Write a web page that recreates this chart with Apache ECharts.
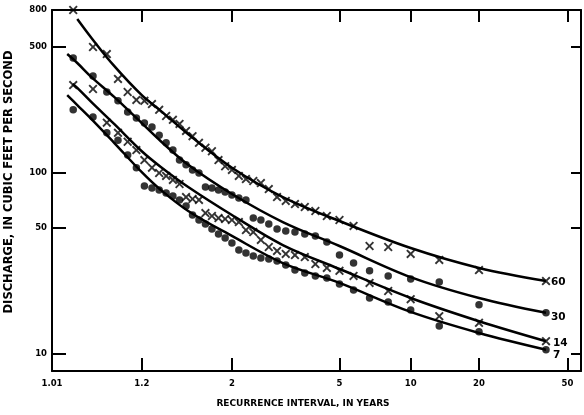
<!DOCTYPE html>
<html>
<head>
<meta charset="utf-8">
<script src="https://cdn.jsdelivr.net/npm/echarts@6/dist/echarts.min.js"></script>
<style>
html,body{margin:0;padding:0;background:#fff;}
#chart{width:584px;height:415px;}
</style>
</head>
<body>
<div id="chart"></div>
<script>
// ---- tick labels ----
const tickIntervals = [1.01, 1.2, 2, 5, 10, 20, 50];
const tickLabels = ['1.01', '1.2', '2', '5', '10', '20', '50'];
const dischargeTicks = [10, 50, 100, 500, 800];

// ---- plotting positions: recurrence intervals (years) ----
const recurrence = [1.0256, 1.0526, 1.0811, 1.1111, 1.1429, 1.1765, 1.2121, 1.25, 1.2903, 1.3333,
  1.3793, 1.4286, 1.4815, 1.5385, 1.6, 1.6667, 1.7391, 1.8182, 1.9048, 2,
  2.1053, 2.2222, 2.3529, 2.5, 2.6667, 2.8571, 3.0769, 3.3333, 3.6364, 4,
  4.4444, 5, 5.7143, 6.6667, 8, 10, 13.333, 20, 40];

// ---- observed discharges (cfs) ----
const q60 = [800, 499, 456, 332, 281, 254, 251, 241, 224, 207, 197, 187, 171, 160, 147, 138, 132, 118, 109, 104,
  96.3, 92.6, 90.3, 88.0, 81.5, 73.6, 70.0, 67.3, 64.8, 61.6, 57.8, 54.9, 50.9, 39.4, 38.9, 35.6, 33.0, 29.0, 25.2];
const q30 = [434, 345, 281, 251, 218, 202, 189, 180, 162, 147, 134, 118, 111, 104, 100, 83.6, 82.6, 80.5, 78.5, 75.5,
  72.7, 70.9, 56.3, 54.9, 52.2, 49.0, 47.7, 47.1, 45.9, 44.8, 41.5, 35.1, 31.7, 28.7, 26.9, 25.9, 24.9, 18.6, 16.8];
const q14 = [307, 292, 190, 167, 149, 134, 118, 107, 100, 96.3, 91.5, 86.9, 73.6, 71.8, 70.9, 60.0, 57.8, 56.3, 55.6, 54.9,
  53.5, 48.3, 47.1, 42.6, 38.9, 37.0, 35.6, 35.1, 34.2, 31.3, 29.8, 28.7, 26.9, 24.6, 22.2, 20.0, 16.1, 14.8, 11.7];
const q7 = [224, 204, 167, 152, 126, 107, 84.7, 82.6, 80.5, 77.5, 74.6, 70.9, 65.7, 58.5, 54.9, 52.2, 49.0, 45.9, 43.7, 41.0,
  37.5, 36.1, 34.7, 33.8, 33.4, 32.5, 30.9, 29.0, 27.9, 26.9, 26.2, 24.3, 22.5, 20.3, 19.3, 17.4, 14.2, 13.2, 10.5];

// ---- fitted frequency curves ----
const curveT60 = [1.03, 1.05, 1.1, 1.2, 1.3, 1.5, 2, 3, 5, 10, 20, 40];
const curveQ60 = [713, 560, 392, 270, 221, 164, 107, 73.6, 54.2, 38.4, 29.8, 25.2];
const curveT30 = [1.02, 1.03, 1.05, 1.1, 1.2, 1.3, 1.5, 2, 3, 5, 10, 20, 40];
const curveQ30 = [456, 407, 340, 264, 189, 150, 111, 76.5, 53.5, 39.4, 26.5, 20.3, 16.8];
const curveT14 = [1.025, 1.03, 1.05, 1.1, 1.2, 1.3, 1.5, 2, 3, 5, 10, 20, 40];
const curveQ14 = [311, 296, 247, 187, 132, 108, 83.6, 58.5, 39.9, 29.4, 20.3, 15.1, 11.7];
const curveT7 = [1.02, 1.03, 1.05, 1.1, 1.2, 1.3, 1.5, 2, 3, 5, 10, 20, 40];
const curveQ7 = [270, 238, 199, 147, 101, 80.5, 61.6, 44.8, 31.7, 24.6, 17.0, 13.0, 10.5];

const curveNames = ['60', '30', '14', '7'];

// Gumbel (extreme-value) probability scale
function gumbel(T) { return -Math.log(-Math.log(1 - 1 / T)); }
const tickPos = tickIntervals.map(gumbel);
function xLabel(v) {
  for (let i = 0; i < tickPos.length; i++) if (Math.abs(tickPos[i] - v) < 1e-6) return tickLabels[i];
  return '';
}
const xmin = gumbel(1.01);
const xmax = 4.045;

const crossPath = 'path://M0,1.5 L1.5,0 L5,3.5 L8.5,0 L10,1.5 L6.5,5 L10,8.5 L8.5,10 L5,6.5 L1.5,10 L0,8.5 L3.5,5 Z';
const FONT = 'DejaVu Sans';

function pts(qs) { return recurrence.map((t, i) => [gumbel(t), qs[i]]); }
function curve(ts, qs) { return ts.map((t, i) => [gumbel(t), qs[i]]); }

function scatter(qs, sym, size) {
  return { type: 'scatter', data: pts(qs), symbol: sym, symbolSize: size, clip: false,
    itemStyle: { color: '#000' }, silent: true, z: 3 };
}
function line(ts, qs, name, off) {
  return { type: 'line', data: curve(ts, qs), smooth: 0.35, showSymbol: false, clip: false,
    lineStyle: { color: '#000', width: 2.5 }, z: 2, silent: true,
    endLabel: { show: true, formatter: name, color: '#000', fontFamily: FONT, fontWeight: 'bold',
      fontSize: 10.5, distance: 5, offset: off } };
}

const axisLineStyle = { show: true, onZero: false, lineStyle: { color: '#000', width: 2 } };

const chart = echarts.init(document.getElementById('chart'), null, { renderer: 'canvas' });
chart.setOption({
  animation: false,
  backgroundColor: '#fff',
  grid: { left: 52, right: 3, top: 10, bottom: 44 },
  xAxis: [
    { type: 'value', min: xmin, max: xmax, position: 'bottom',
      axisLine: axisLineStyle, splitLine: { show: false },
      axisTick: { show: true, inside: true, length: 13, customValues: tickPos, lineStyle: { color: '#000', width: 2 } },
      axisLabel: { show: true, customValues: tickPos, formatter: xLabel, margin: 8, color: '#000',
        fontFamily: FONT, fontWeight: 'bold', fontSize: 8.5, showMinLabel: true, showMaxLabel: true } },
    { type: 'value', min: xmin, max: xmax, position: 'top',
      axisLine: axisLineStyle, splitLine: { show: false },
      axisTick: { show: true, inside: true, length: 12, customValues: tickPos.slice(1), lineStyle: { color: '#000', width: 2 } },
      axisLabel: { show: false } }
  ],
  yAxis: [
    { type: 'log', logBase: 10, min: 8, max: 800, position: 'left',
      axisLine: axisLineStyle, splitLine: { show: false }, minorTick: { show: false },
      axisTick: { show: true, inside: true, length: 14, customValues: dischargeTicks, lineStyle: { color: '#000', width: 2 } },
      axisLabel: { show: true, customValues: dischargeTicks, margin: 5, color: '#000',
        fontFamily: FONT, fontWeight: 'bold', fontSize: 8.5,
        formatter: v => String(Math.round(v)) } },
    { type: 'log', logBase: 10, min: 8, max: 800, position: 'right',
      axisLine: axisLineStyle, splitLine: { show: false },
      axisTick: { show: true, inside: true, length: 10, customValues: dischargeTicks.slice(0, 4), lineStyle: { color: '#000', width: 2 } },
      axisLabel: { show: false } }
  ],
  graphic: [
    { type: 'text', position: [303, 404],
      style: { text: 'RECURRENCE INTERVAL, IN YEARS', fill: '#000', font: 'bold 9px "DejaVu Sans"',
        align: 'center', verticalAlign: 'middle' } },
    { type: 'text', position: [9, 182], rotation: Math.PI / 2,
      style: { text: 'DISCHARGE, IN CUBIC FEET PER SECOND', fill: '#000', font: 'bold 11.5px "DejaVu Sans"',
        align: 'center', verticalAlign: 'middle' } }
  ],
  series: [
    line(curveT60, curveQ60, curveNames[0], [0, 1]),
    line(curveT30, curveQ30, curveNames[1], [0, 4]),
    line(curveT14, curveQ14, curveNames[2], [2, 2]),
    line(curveT7, curveQ7, curveNames[3], [2, 6]),
    scatter(q60, crossPath, 9),
    scatter(q30, 'circle', 7.5),
    scatter(q14, crossPath, 9),
    scatter(q7, 'circle', 7.5)
  ]
});
</script>
</body>
</html>
